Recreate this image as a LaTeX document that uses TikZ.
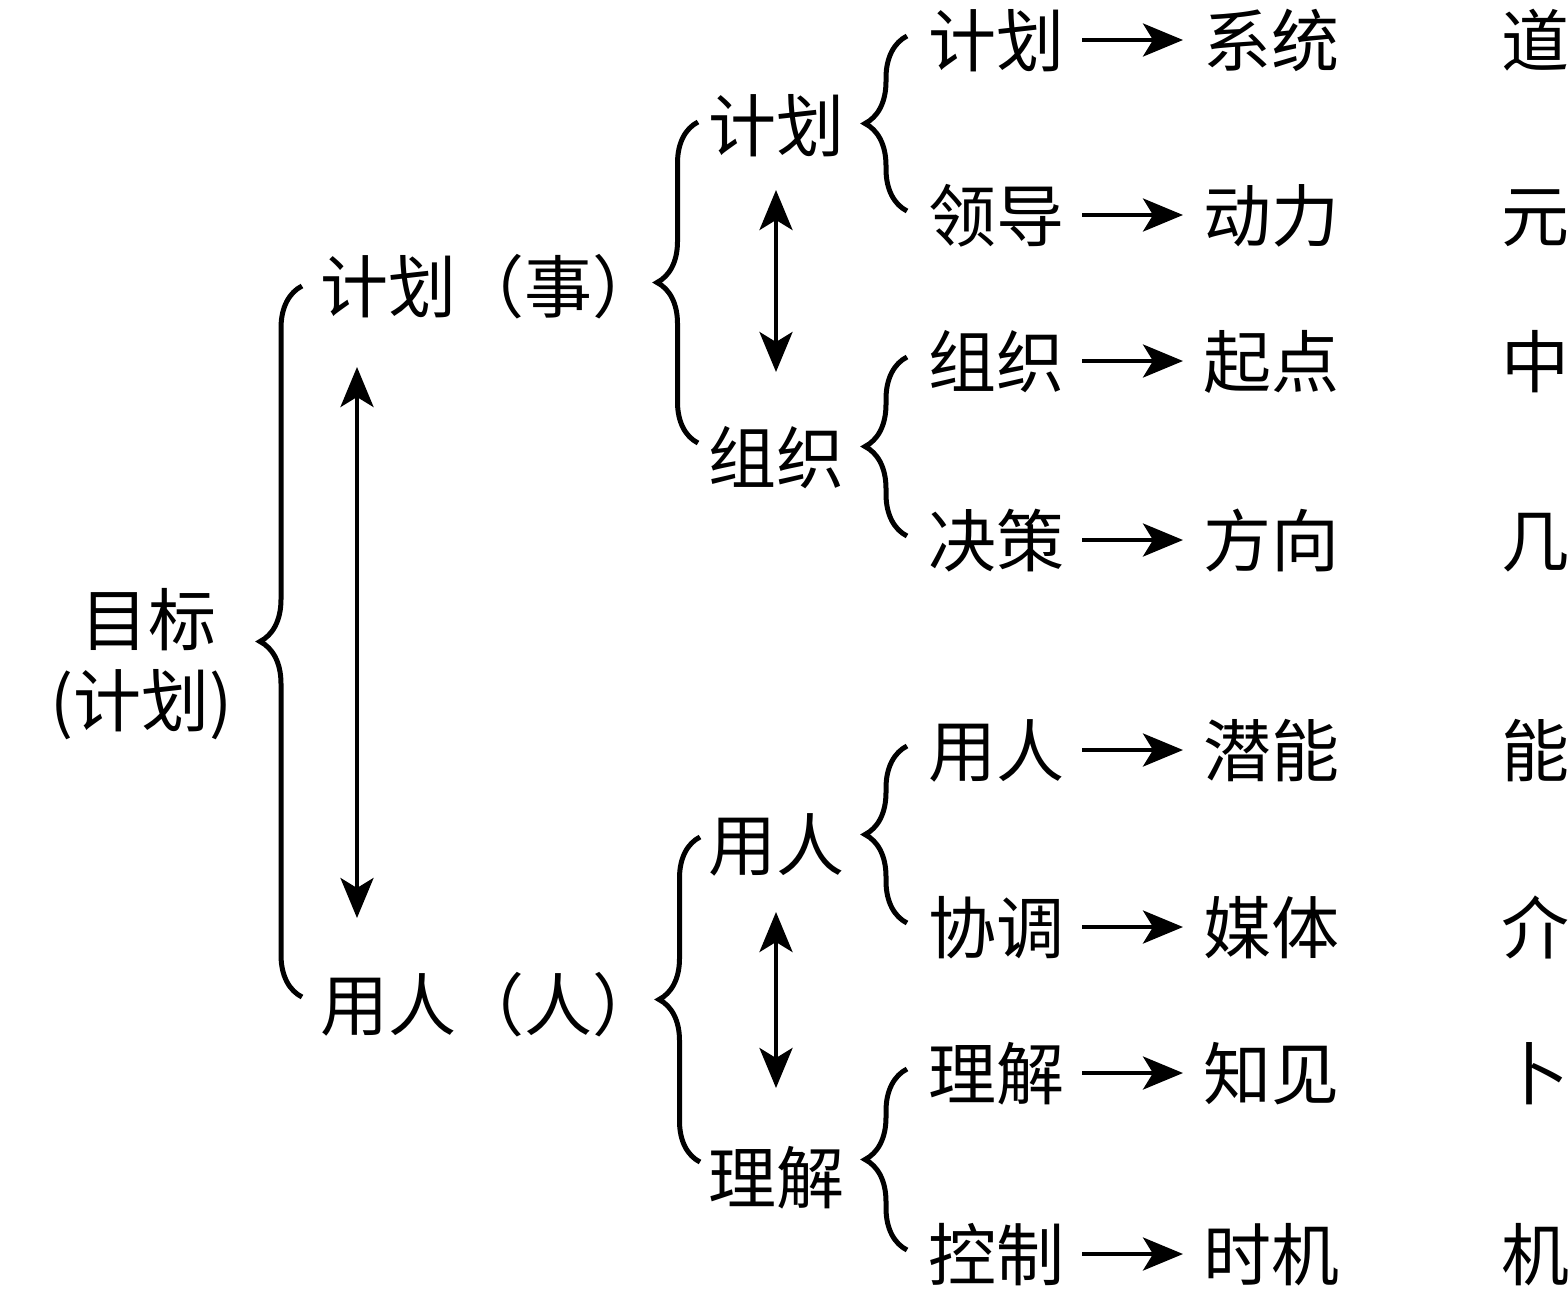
\documentclass[tikz,border=0pt]{standalone}
\usepackage{fontspec}
\setmainfont{Noto Sans CJK SC}
\usetikzlibrary{arrows.meta,positioning,decorations.pathreplacing}
\tikzset{
  word/.style = {inner sep=0pt, outer sep=0pt, anchor=west, text height=30pt,
  text depth=4pt, font=\fontsize{34}{40}\selectfont},
  brc/.style = {decorate, decoration={brace, amplitude=21pt}, line width=2.5pt},
  brc_s/.style = {brc, decoration={brace, amplitude=20.5pt}}
}

\begin{document}
\begin{tikzpicture}[x=0.5pt, y=-0.5pt, line width=2pt,
        >={Stealth[length=20pt, width=16.5pt, inset=5pt]},
        link/.style={->, shorten <=9pt, shorten >=10pt}]
    \useasboundingbox (0,0) rectangle (1568,1297);
    \node [word, anchor=center] (goal) at (148,619) {目标};
    \node [word, anchor=center] (goalsub) at (141,700) {(计划)};
    \node [word] (plan1) at (320,286) {计划（事）};
    \node [word] (staff1) at (320,1004) {用人（人）};
    \node [word] (plan2) at (708,125) {计划};
    \node [word] (org2) at (708,457) {组织};
    \node [word] (staff2) at (708,844) {用人};
    \node [word] (und2) at (708,1177) {理解};
    \foreach \n/\y/\a/\b/\c in {1/40/计划/系统/道, 2/215/领导/动力/元, 3/361/组织/起点/中,
        4/540/决策/方向/几, 5/750/用人/潜能/能, 6/927/协调/媒体/介, 7/1073/理解/知见/卜,
        8/1254/控制/时机/机}{
        \node [word] (t\n) at (928,\y) {\a};
        \node [word, right=69.5pt of t\n] (r\n) {\b};
        \node [word, right=81pt of r\n] (e\n) {\c};
        \draw [link] (t\n) -- (r\n);
    }
    \draw [brc] ([xshift=-9pt,yshift=3.5pt]staff1.west) -- ([xshift=-9pt]plan1.west);
    \draw [brc_s] ([xshift=-5pt,yshift=7pt]org2.west) -- ([xshift=-5pt,yshift=1.5pt]plan2.west);
    \draw [brc_s] ([xshift=-4pt,yshift=7.5pt]und2.west) -- ([xshift=-4pt,yshift=3.5pt]staff2.west);
    \foreach \a/\b in {2/1, 4/3, 6/5, 8/7}
        \draw [brc] ([xshift=-10.5pt,yshift=2pt]t\a.west) -- ([xshift=-10.5pt,yshift=2pt]t\b.west);
    \draw [<->, shorten <=23.5pt, shorten >=26pt] ([xshift=18.5pt]plan1.south west)
        -- ([xshift=18.5pt]staff1.north west);
    \draw [<->, shorten <=15.5pt, shorten >=25.5pt] (plan2.south) -- (org2.north);
    \draw [<->, shorten <=17pt, shorten >=27.5pt] (staff2.south) -- (und2.north);
\end{tikzpicture}
\end{document}
